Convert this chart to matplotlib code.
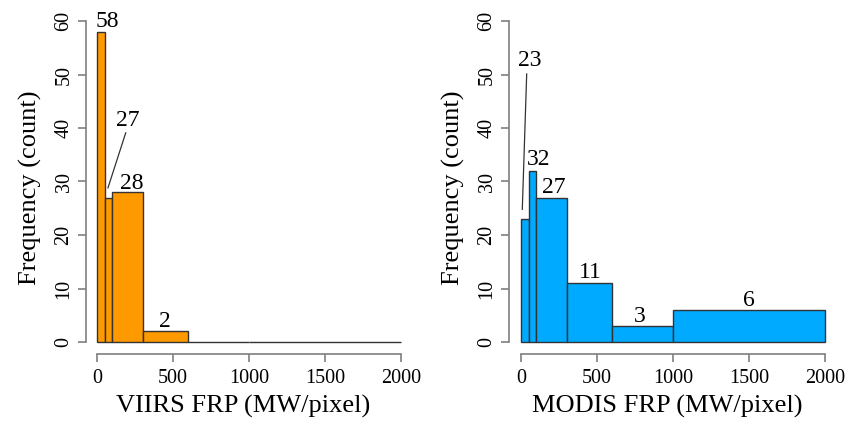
import matplotlib.pyplot as plt

plt.rcParams['font.family'] = ['Liberation Serif', 'DejaVu Serif']

# histogram breaks (MW/pixel) shared by both panels
breaks = [0, 50, 100, 300, 600, 1000, 2000]
viirs_counts = [58, 27, 28, 2, 0, 0]
modis_counts = [23, 32, 27, 11, 3, 6]

# count labels: (text, x, y, leader line or None)
viirs_labels = [("58", 69, 58.9, None),
                ("27", 204, 40.3, (189, 39.1, 72, 28.8)),
                ("28", 228, 28.6, None),
                ("2", 447, 2.8, None)]
modis_labels = [("23", 55, 51.6, (37.5, 50.1, 8.5, 24.8)),
                ("32", 114, 33.1, None),
                ("27", 213, 27.8, None),
                ("11", 458, 12.0, None),
                ("3", 778, 3.8, None),
                ("6", 1502, 6.7, None)]

W, H = 849, 423
fig = plt.figure(figsize=(W / 100, H / 100), dpi=100)

axis_col = '#7f7f7f'


def panel(px_spine, px0, counts, labels, color, xlabel):
    # pixel geometry: x=0 at px0, 2000 at px0+304 ; y=0 at 342, 60 at 21
    sx = 304 / 2000.0
    sy = (342 - 21) / 60.0
    top = 21
    bottom = 354
    xl = (px_spine - px0) / sx
    yb = (342 - bottom) / sy
    ax = fig.add_axes([px_spine / W, 1 - bottom / H, (px0 + 304 - px_spine) / W, (bottom - top) / H])
    ax.set_xlim(xl, 2000)
    ax.set_ylim(yb, 60)
    for i, c in enumerate(counts):
        ax.bar(breaks[i], c, width=breaks[i + 1] - breaks[i], align='edge',
               color=color, edgecolor='#333333', linewidth=1.0, clip_on=False)
    for t, x, y, ln in labels:
        ax.text(x, y, t, ha='center', va='baseline', fontsize=17)
        if ln:
            ax.plot([ln[0], ln[2]], [ln[1], ln[3]], color='#333333', lw=0.9)
    for s in ['top', 'right']:
        ax.spines[s].set_visible(False)
    ax.spines['left'].set_bounds(0, 60)
    ax.spines['bottom'].set_bounds(0, 2000)
    for s in ['left', 'bottom']:
        ax.spines[s].set_color(axis_col)
        ax.spines[s].set_linewidth(1.2)
    ax.set_xticks([0, 500, 1000, 1500, 2000])
    ax.set_yticks([0, 10, 20, 30, 40, 50, 60])
    ax.tick_params(axis='both', color=axis_col, length=6, width=1.2, labelsize=14.5)
    ax.tick_params(axis='x', pad=5)
    ax.tick_params(axis='y', labelrotation=90, pad=3)
    for lab in ax.get_yticklabels():
        lab.set_va('center')
    ax.set_xlabel(xlabel, fontsize=19, labelpad=5)
    ax.set_ylabel('Frequency (count)', fontsize=19, labelpad=9)
    return ax


panel(86, 97, viirs_counts, viirs_labels, '#FF9900', 'VIIRS FRP (MW/pixel)')
panel(509, 521, modis_counts, modis_labels, '#00AAFF', 'MODIS FRP (MW/pixel)')

fig.savefig('out.png', dpi=100)
